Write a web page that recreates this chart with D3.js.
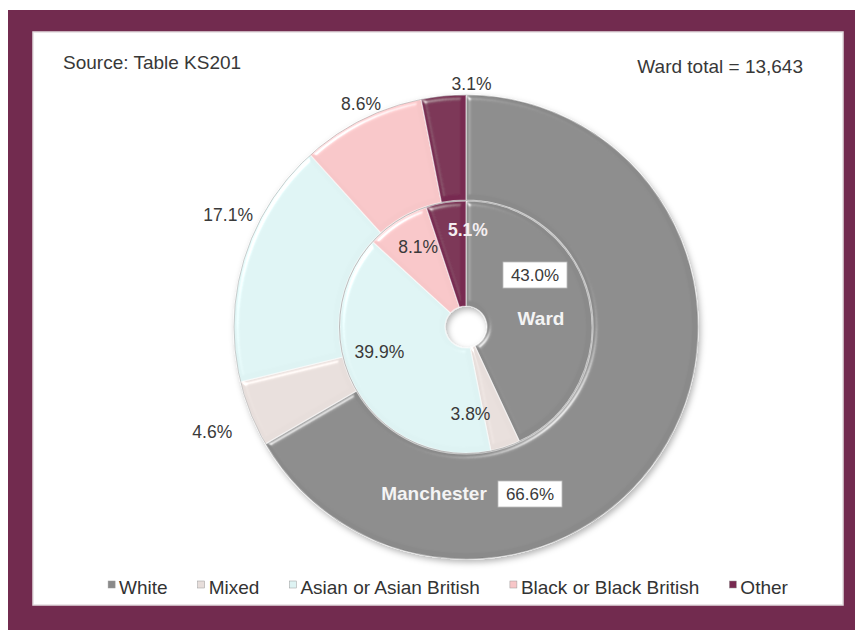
<!DOCTYPE html>
<html>
<head>
<meta charset="utf-8">
<script src="https://cdn.jsdelivr.net/npm/d3@7"></script>
<style>
  html, body { margin: 0; padding: 0; background: #fff; }
  text { font-family: "Liberation Sans", Arial, sans-serif; }
</style>
</head>
<body>
<svg id="chart" width="855" height="630"></svg>
<script>
// data
const categories = ["White", "Mixed", "Asian or Asian British", "Black or Black British", "Other"];
const manchesterPct = [66.6, 4.6, 17.1, 8.6, 3.1];
const wardPct = [43.0, 3.8, 39.9, 8.1, 5.1];
const colors = ["#8a8a8a", "#e7dedb", "#def3f3", "#f7c6c8", "#782a51"];
const sourceNote = "Source: Table KS201";
const totalNote = "Ward total = 13,643";

const width = 855, height = 630;
const cx = 466, cy = 327;
const svg = d3.select("#chart");

// filters: bevel highlight + drop shadow
const defs = svg.append("defs");
const bevel = defs.append("filter").attr("id", "bevel")
  .attr("x", "-10%").attr("y", "-10%").attr("width", "120%").attr("height", "120%");
bevel.append("feGaussianBlur").attr("in", "SourceAlpha").attr("stdDeviation", 2.5).attr("result", "b");
bevel.append("feSpecularLighting").attr("in", "b").attr("surfaceScale", 4)
  .attr("specularConstant", 0.8).attr("specularExponent", 25)
  .attr("lighting-color", "#ffffff").attr("result", "s")
  .append("feDistantLight").attr("azimuth", 225).attr("elevation", 30);
bevel.append("feComposite").attr("in", "s").attr("in2", "SourceAlpha").attr("operator", "in").attr("result", "s2");
bevel.append("feComposite").attr("in", "SourceGraphic").attr("in2", "s2")
  .attr("operator", "arithmetic").attr("k1", 0).attr("k2", 1).attr("k3", 0.7).attr("k4", 0);

const shadow = defs.append("filter").attr("id", "shadow")
  .attr("x", "-10%").attr("y", "-10%").attr("width", "125%").attr("height", "125%");
shadow.append("feDropShadow").attr("dx", 2).attr("dy", 3).attr("stdDeviation", 3)
  .attr("flood-color", "#000").attr("flood-opacity", 0.3);

// frame
svg.append("rect").attr("x", 8).attr("y", 10).attr("width", width - 8).attr("height", height - 10)
  .attr("fill", "#722b4f");
svg.append("rect").attr("x", 33).attr("y", 32).attr("width", 810).attr("height", 573)
  .attr("fill", "#ffffff").attr("stroke", "#e4dde0").attr("stroke-width", 1.5);

svg.append("text").attr("x", 63).attr("y", 69).attr("font-size", 19).attr("fill", "#383838")
  .text(sourceNote);
svg.append("text").attr("x", 803).attr("y", 73).attr("font-size", 19).attr("fill", "#383838")
  .attr("text-anchor", "end").text(totalNote);

const color = d3.scaleOrdinal().domain(categories).range(colors);
const pie = d3.pie().sort(null).value(d => d.v);

const outerArc = d3.arc().innerRadius(127).outerRadius(232);
const innerArc = d3.arc().innerRadius(21).outerRadius(126);

const g = svg.append("g").attr("transform", `translate(${cx},${cy})`);

const outerData = pie(categories.map((c, i) => ({ c, v: manchesterPct[i] })));
const innerData = pie(categories.map((c, i) => ({ c, v: wardPct[i] })));

const rings = g.append("g").attr("filter", "url(#shadow)");
rings.append("g").selectAll("path")
  .data(outerData).enter().append("path")
  .attr("d", outerArc)
  .attr("fill", d => color(d.data.c))
  .attr("stroke", "rgba(255,255,255,0.55)")
  .attr("stroke-width", 1.2)
  .attr("filter", "url(#bevel)");

rings.append("g").selectAll("path")
  .data(innerData).enter().append("path")
  .attr("d", innerArc)
  .attr("fill", d => color(d.data.c))
  .attr("stroke", "rgba(255,255,255,0.55)")
  .attr("stroke-width", 1.2)
  .attr("filter", "url(#bevel)");

// ring outlines
g.append("circle").attr("r", 232).attr("fill", "none").attr("stroke", "rgba(0,0,0,0.18)").attr("stroke-width", 1);
g.append("circle").attr("r", 126.5).attr("fill", "none").attr("stroke", "rgba(0,0,0,0.22)").attr("stroke-width", 1);

// percentage labels
function polar(a, r) { return [r * Math.sin(a), -r * Math.cos(a)]; }
const outerNudge = { "Mixed": [-20, 11], "Asian or Asian British": [3, -38], "Black or Black British": [8, 2], "Other": [30, 8] };
const innerNudge = { "Mixed": [-23, 3], "Asian or Asian British": [-10, -18], "Black or Black British": [0, -6], "Other": [16, -10] };

outerData.filter(d => d.data.c !== "White").forEach(d => {
  const p = polar((d.startAngle + d.endAngle) / 2, 252);
  const n = outerNudge[d.data.c];
  g.append("text").attr("x", p[0] + n[0]).attr("y", p[1] + n[1])
    .attr("text-anchor", "middle").attr("dominant-baseline", "central")
    .attr("font-size", 17.5).attr("fill", "#3a3a3a")
    .text(d.data.v.toFixed(1) + "%");
});

innerData.filter(d => d.data.c !== "White").forEach(d => {
  const p = polar((d.startAngle + d.endAngle) / 2, 88);
  const n = innerNudge[d.data.c];
  const onDark = d.data.c === "Other";
  g.append("text").attr("x", p[0] + n[0]).attr("y", p[1] + n[1])
    .attr("text-anchor", "middle").attr("dominant-baseline", "central")
    .attr("font-size", 17.5).attr("font-weight", onDark ? "bold" : "normal")
    .attr("fill", onDark ? "#f4eef1" : "#3a3a3a")
    .text(d.data.v.toFixed(1) + "%");
});

// boxed value + series name labels for White
function boxLabel(x, y, txt) {
  g.append("rect").attr("x", x - 32).attr("y", y - 13).attr("width", 64).attr("height", 26)
    .attr("fill", "#fff").attr("stroke", "#bbb").attr("stroke-width", 0.8);
  g.append("text").attr("x", x).attr("y", y).attr("text-anchor", "middle")
    .attr("dominant-baseline", "central").attr("font-size", 17).attr("fill", "#3a3a3a").text(txt);
}
boxLabel(69, -52, wardPct[0].toFixed(1) + "%");
g.append("text").attr("x", 75).attr("y", -9).attr("text-anchor", "middle")
  .attr("dominant-baseline", "central").attr("font-size", 19).attr("font-weight", "bold")
  .attr("fill", "#f4f4f4").text("Ward");
boxLabel(64, 167, manchesterPct[0].toFixed(1) + "%");
g.append("text").attr("x", -32).attr("y", 166).attr("text-anchor", "middle")
  .attr("dominant-baseline", "central").attr("font-size", 19).attr("font-weight", "bold")
  .attr("fill", "#f4f4f4").text("Manchester");

// legend
const legend = svg.append("g");
let lx = 0;
categories.forEach((c, i) => {
  const item = legend.append("g").attr("transform", `translate(${lx},0)`);
  item.append("rect").attr("x", 0).attr("y", -6).attr("width", 7).attr("height", 7)
    .attr("fill", colors[i]).attr("stroke", "#999").attr("stroke-width", 0.5);
  const t = item.append("text").attr("x", 11).attr("y", 0).attr("dominant-baseline", "central")
    .attr("font-size", 19).attr("fill", "#333").text(c);
  lx += 11 + t.node().getComputedTextLength() + 30;
});
const legendW = lx - 30;
legend.attr("transform", `translate(${448 - legendW / 2},587)`);
</script>
</body>
</html>
